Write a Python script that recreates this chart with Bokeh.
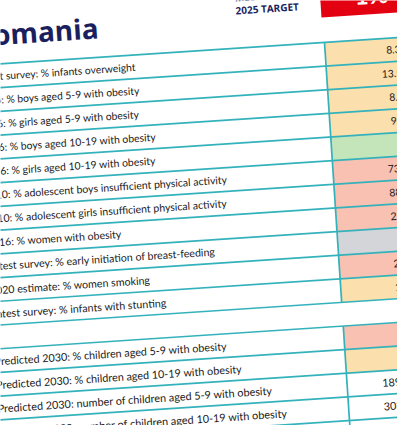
import numpy as np
from bokeh.plotting import figure
from bokeh.models import Range1d, ColumnDataSource
from bokeh.core.properties import value
from bokeh.embed import file_html
from bokeh.resources import INLINE

# ---------------- data ----------------
country = "Romania"
target_caption = ["MEETING WHO", "2025 TARGET"]
target_badge = "1%"

labels_current = [
    "Latest survey: % infants overweight",
    "2016: % boys aged 5-9 with obesity",
    "2016: % girls aged 5-9 with obesity",
    "2016: % boys aged 10-19 with obesity",
    "2016: % girls aged 10-19 with obesity",
    "2010: % adolescent boys insufficient physical activity",
    "2010: % adolescent girls insufficient physical activity",
    "2016: % women with obesity",
    "Latest survey: % early initiation of breast-feeding",
    "2020 estimate: % women smoking",
    "Latest survey: % infants with stunting",
]
values_current = [8.3, 13.5, 8.2, 9.2, 4, 73.2, 88.1, 22.5, None, 21.4, 12.8]
status_current = ["amber", "amber", "amber", "amber", "green", "red", "red",
                  "red", "nodata", "red", "amber"]

labels_predicted = [
    "Predicted 2030: % children aged 5-9 with obesity",
    "Predicted 2030: % children aged 10-19 with obesity",
    "Predicted 2030: number of children aged 5-9 with obesity",
    "Predicted 2030: number of children aged 10-19 with obesity",
    "",
]
values_predicted = [22.8, 13.4, 189555, 303712, 493267]
status_predicted = ["red", "amber", "none", "none", "none"]
bold_predicted = [False, False, False, False, True]

# ---------------- styling / layout ----------------
status_colors = {"amber": "#fbdfad", "green": "#c4e4b9", "red": "#f9c1b2",
                 "nodata": "#d3d5d8", "none": "#ffffff"}
NAVY = "#1b1f5e"
TEAL = "#33b2bc"
RED = "#e30010"
FONT = "Lato"

theta = 0.066            # page tilt (radians)
row_h = 23.68            # row height in page units
ox, oy = 332.0, 50.0     # where the value-column divider meets the top rule
label_u = -350.3         # label start (page units, left of divider)
value_u = 75.4           # right edge of values
cell_w = 160.0
c, s = np.cos(theta), np.sin(theta)


def to_screen(u, v):
    u = np.asarray(u, dtype=float)
    v = np.asarray(v, dtype=float)
    return ox + u * c + v * s, oy - u * s + v * c


def fmt(x):
    if x is None:
        return ""
    if x >= 1000:
        return f"{int(x):,}"
    return f"{x:g}"


# assemble rows: current block, one blank spacer row, predicted block
row_labels = labels_current + [""] + labels_predicted
row_values = values_current + [None] + values_predicted
row_status = status_current + [None] + status_predicted
row_bold = [False] * len(values_current) + [False] + bold_predicted
n_rows = len(row_labels)
row_idx = np.arange(n_rows)
v_mid = (row_idx + 0.5) * row_h

W, H = 397, 425
p = figure(width=W, height=H, output_backend="svg", toolbar_location=None,
           x_range=Range1d(8, 8 + W), y_range=Range1d(8 + H, 8),
           title=None, x_axis_location=None, y_axis_location=None,
           min_border=0, background_fill_color="white", border_fill_color="white")
p.grid.visible = False
p.outline_line_color = None

# coloured value cells
cell_rows = [i for i in range(n_rows) if row_status[i] is not None]
cx, cy = to_screen([cell_w / 2] * len(cell_rows), v_mid[cell_rows])
p.rect(x=cx, y=cy, width=cell_w, height=row_h, angle=theta,
       fill_color=[status_colors[row_status[i]] for i in cell_rows],
       line_color=None)

# red badge
bx, by = to_screen([cell_w / 2 - 1.35], [-25.1 - 40])
p.rect(x=bx, y=by, width=cell_w, height=80, angle=theta,
       fill_color=RED, line_color=None)

# horizontal rules
k = np.arange(n_rows + 1)
x0, y0 = to_screen(np.full(len(k), -370.0), k * row_h)
x1, y1 = to_screen(np.full(len(k), 200.0), k * row_h)
p.segment(x0=x0, y0=y0, x1=x1, y1=y1, line_color=TEAL, line_width=1.7)

# vertical divider (not across spacer row)
blocks = [(0, len(values_current)), (len(values_current) + 1, n_rows)]
for a, b in blocks:
    dx0, dy0 = to_screen([0.0], [a * row_h])
    dx1, dy1 = to_screen([0.0], [b * row_h])
    p.segment(x0=dx0, y0=dy0, x1=dx1, y1=dy1, line_color=TEAL, line_width=1.7)

# labels
lx, ly = to_screen(np.full(n_rows, label_u), v_mid)
fs = [f"{10.3 + 0.04 * i:.2f}px" for i in row_idx]
src_l = ColumnDataSource(dict(x=lx, y=ly, t=row_labels, fs=fs))
p.text(x="x", y="y", text="t", source=src_l, angle=theta, text_align="left",
       text_baseline="middle", text_font=value(FONT), text_font_size="fs",
       text_color="#1a1a1a")

# values
vx, vy = to_screen(np.full(n_rows, value_u), v_mid)
vt = [fmt(x) for x in row_values]
norm = [i for i in range(n_rows) if not row_bold[i]]
bold = [i for i in range(n_rows) if row_bold[i]]
for idx, style in ((norm, "normal"), (bold, "bold")):
    src_v = ColumnDataSource(dict(x=vx[idx], y=vy[idx], t=[vt[i] for i in idx],
                                  fs=[fs[i] for i in idx]))
    p.text(x="x", y="y", text="t", source=src_v, angle=theta, text_align="right",
           text_baseline="middle", text_font=value(FONT), text_font_size="fs",
           text_font_style=style, text_color="#1a1a1a")

# title
tx, ty = to_screen([-348.7], [-30.0])
p.text(x=tx, y=ty, text=[country], angle=theta, text_align="left",
       text_baseline="alphabetic", text_font=value("Open Sans"),
       text_font_size="28px", text_font_style="bold", text_color=NAVY)

# target caption
cx2, cy2 = to_screen([-86.7, -86.7], [-50.8, -37.8])
p.text(x=cx2, y=cy2, text=target_caption, angle=theta, text_align="left",
       text_baseline="alphabetic", text_font=value("Open Sans"),
       text_font_size="10px", text_font_style="bold", text_color=NAVY)

# badge text
gx, gy = to_screen([33.0], [-45.0])
p.text(x=gx, y=gy, text=[target_badge], angle=theta, text_align="left",
       text_baseline="alphabetic", text_font=value(FONT), text_font_size="24px",
       text_font_style="bold", text_color="white")

open("out.html", "w").write(file_html(p, INLINE))
